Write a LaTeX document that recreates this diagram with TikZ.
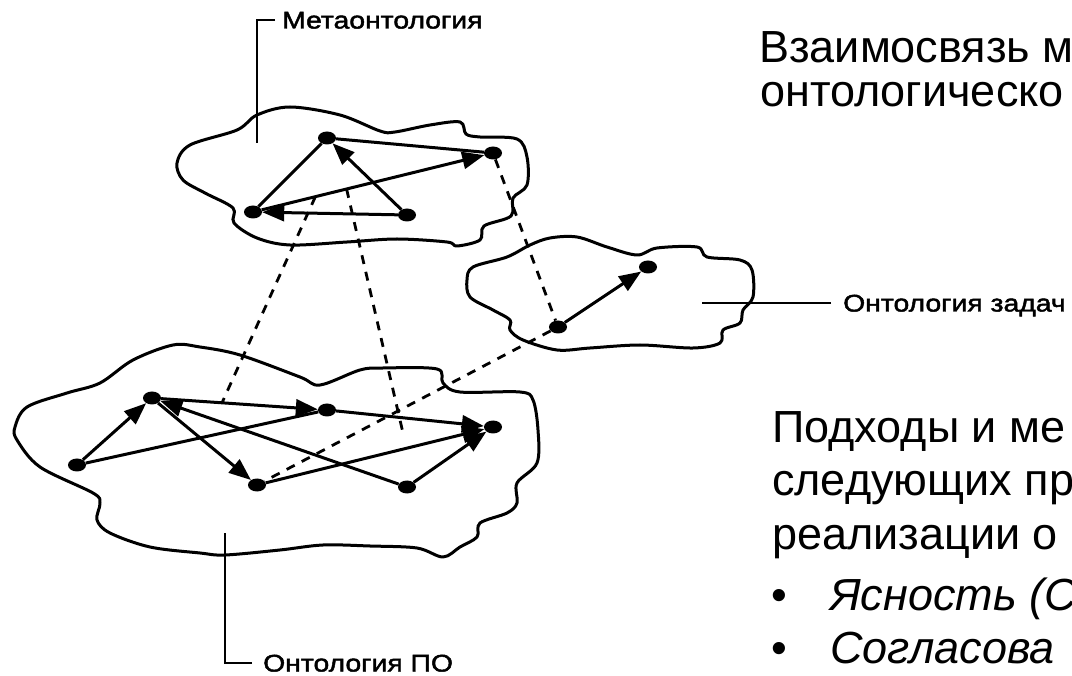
\documentclass[tikz,border=0pt]{standalone}
\usepackage{fontspec}
\setmainfont{Liberation Sans}
\newfontfamily\scanfont{Liberation Sans}[FakeStretch=1.18,FakeBold=2]
\usetikzlibrary{arrows.meta,shapes.geometric,calc}
\tikzset{
  dot/.style={ellipse,fill=black,minimum width=18pt,minimum height=13pt,inner sep=0pt},
  flow/.style={-{Triangle[length=22pt,width=17pt]},line width=3pt},
  link/.style={line width=3pt},
  dashlink/.style={line width=2.8pt,dash pattern=on 9pt off 8pt},
  cloud/.style={line width=3pt,line join=round},
  leader/.style={line width=2.4pt},
  % scanned captions
  tag/.style={font=\scanfont\fontsize{24}{24}\selectfont,inner sep=0pt,anchor=west,
    text height=17pt,text depth=0pt},
  % slide text
  slide/.style={font=\fontsize{45}{45}\selectfont,inner sep=0pt,anchor=base west},
}
\begin{document}
\begin{tikzpicture}[x=1pt,y=-1pt]
\useasboundingbox (0,0) rectangle (1072,676);
% clouds
\draw[cloud] plot[smooth cycle,tension=0.55] coordinates {(177,163) (190,145) (237,130) (257,115)
  (290,107) (340,115) (380,131) (395,132) (430,125) (460,122) (466,134) (480,137) (517,139)
  (527,157) (527,185) (513,198) (511,216) (484,226) (480,240) (457,246) (447,242) (397,239)
  (347,242) (290,245) (257,238) (234,223) (233,208) (205,193) (183,180)};
\draw[cloud] plot[smooth cycle,tension=0.55] coordinates {(467,280) (473,267) (507,257) (530,245)
  (550,238) (577,237) (607,247) (637,255) (657,248) (697,247) (707,257) (740,260) (752,270)
  (753,297) (743,310) (740,323) (723,330) (720,343) (693,348) (640,345) (590,348) (557,350)
  (523,340) (510,330) (510,320) (493,310) (470,297)};
\draw[cloud] plot[smooth cycle,tension=0.55] coordinates {(15,427) (27,407) (67,393) (100,383)
  (133,360) (173,345) (200,347) (240,355) (300,377) (320,385) (360,370) (383,368) (437,369)
  (443,383) (460,392) (520,392) (533,400) (538,430) (537,463) (517,483) (517,503) (507,513)
  (480,523) (477,537) (460,547) (443,557) (417,548) (370,546) (323,545) (280,550) (225,555)
  (200,553) (150,547) (110,533) (97,520) (100,503) (93,493) (40,467) (17,440)};

% meta ontology
\foreach \n/\x/\y in {ma/327/138,mb/493/153,mc/253/212,md/407/215}
  \node[dot] (\n) at (\x,\y) {};
\draw[link] (mc) -- (ma) -- (mb);
\foreach \a/\b in {mc/mb,md/ma,md/mc}
  \draw[flow] (\a) -- (\b);

% task ontology
\node[dot] (z1) at (558,327) {};
\node[dot] (z2) at (648,267) {};
\draw[flow] (z1) -- (z2);

% domain ontology
\foreach \n/\x/\y in {pl/77/465,pp/152/398,pq/327/410,ps/257/485,pt/407/487,pr/493/427}
  \node[dot] (\n) at (\x,\y) {};
\draw[link] (pl) -- (pq);
\foreach \a/\b in {pl/pp,pp/pq,pp/ps,pt/pp,pq/pr,ps/pr,pt/pr}
  \draw[flow] (\a) -- (\b);

% mappings
\coordinate (da) at ($(mc)!0.26!(mb)$);
\coordinate (db) at ($(mc)!0.39!(mb)$);
\coordinate (ea) at ($(pp)!0.4!(pq)$);
\coordinate (eb) at (403,433);
\draw[dashlink] (da) -- (ea);
\draw[dashlink] (db) -- (eb);
\draw[dashlink] (mb) -- (z1);
\draw[dashlink] (z1) -- (ps);

% captions
\node[tag] (lblmeta) at (282,20) {Метаонтология};
\node[tag] (lblzad) at (843,303) {Онтология задач};
\node[tag] (lblpo) at (263,663) {Онтология ПО};
\coordinate (metatip) at (257,143);
\coordinate (zadtip) at (702,303);
\coordinate (potip) at (225,533);
\draw[leader] ([xshift=-7pt]lblmeta.west) -| (metatip);
\draw[leader] ([xshift=-12pt]lblzad.west) -- (zadtip);
\draw[leader] ([xshift=-11pt]lblpo.west) -| (potip);

% slide text
\node[slide] (t1) at (759,63) {Взаимосвязь м};
\node[slide] (t2) at (760,107) {онтологическо};
\node[slide] (b1) at (772,443) {Подходы и ме};
\node[slide] (b2) at (772,496) {следующих пр};
\node[slide] (b3) at (772,549) {реализации о};
\node[slide] (u1) at (771,610) {•};
\node[slide] (i1) at (830,610) {\itshape Ясность (С};
\node[slide] (u2) at (771,663) {•};
\node[slide] (i2) at (830,663) {\itshape Согласова};
\end{tikzpicture}
\end{document}
